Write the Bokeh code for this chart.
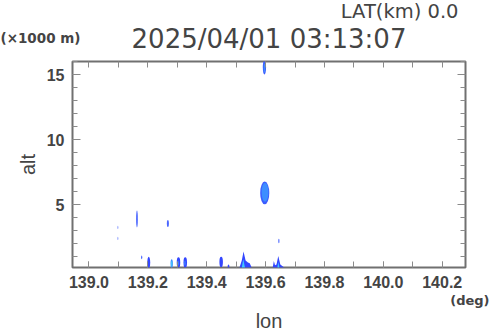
from bokeh.plotting import figure
from bokeh.models import LinearAxis, FixedTicker, Range1d, Title, PrintfTickFormatter
from bokeh.embed import file_html
from bokeh.resources import INLINE

# ---- data ----
title_text = "2025/04/01 03:13:07"
lat_text = "LAT(km) 0.0"
unit_y_text = "(\u00d71000 m)"
unit_x_text = "(deg)"
x_major = [139.0, 139.2, 139.4, 139.6, 139.8, 140.0, 140.2]
x_minor = [139.0, 139.1, 139.2, 139.3, 139.4, 139.5, 139.6, 139.7, 139.8, 139.9, 140.0, 140.1, 140.2]
y_major = [5, 10, 15]
y_minor = list(range(1, 17))
y_minor_only = [v for v in y_minor if v not in y_major]

# echo cells (ellipses): outer layer
blob_lon = [139.596, 139.597, 139.163, 139.268, 139.098, 139.098, 139.645, 139.179, 139.203, 139.281, 139.304, 139.327, 139.449, 139.474]
blob_alt = [15.55, 5.9, 3.9, 3.55, 3.25, 2.4, 2.2, 0.95, 0.55, 0.45, 0.55, 0.55, 0.6, 0.25]
blob_w = [0.011, 0.031, 0.006, 0.007, 0.004, 0.004, 0.004, 0.004, 0.010, 0.008, 0.012, 0.012, 0.012, 0.006]
blob_h = [1.1, 1.75, 1.3, 0.55, 0.25, 0.25, 0.35, 0.3, 0.9, 0.7, 0.8, 0.8, 0.8, 0.3]
blob_col = ["#3c5cff", "#3c5cff", "#4a66ff", "#4a66ff", "#9aaaff", "#9aaaff", "#4a66ff", "#4a66ff",
            "#3346ff", "#3c8cff", "#3346ff", "#3346ff", "#3346ff", "#3346ff"]

# inner layer (stronger echo)
core_lon = [139.596, 139.598, 139.281, 139.303, 139.326]
core_alt = [15.5, 5.95, 0.45, 0.5, 0.5]
core_w = [0.005, 0.023, 0.004, 0.005, 0.005]
core_h = [0.7, 1.45, 0.45, 0.4, 0.4]
core_col = ["#3f8cff", "#3d8eff", "#40d0ff", "#3f80ff", "#3f80ff"]

# low-level peaks (polygons, lon/alt)
peak_lon = [[139.511, 139.519, 139.525, 139.532, 139.540, 139.546, 139.553],
            [139.624, 139.628, 139.632, 139.637, 139.643, 139.650, 139.664]]
peak_alt = [[0.15, 0.7, 1.39, 0.7, 0.55, 0.5, 0.15],
            [0.15, 0.67, 0.35, 0.4, 1.05, 0.4, 0.15]]
peak_core_lon = [[139.519, 139.524, 139.530], [139.640, 139.643, 139.647]]
peak_core_alt = [[0.15, 0.8, 0.15], [0.15, 0.6, 0.15]]

TXT = "#444444"
FONT = "Liberation Sans"
TICK = "#8a8a8a"

p = figure(width=490, height=331, output_backend="svg", toolbar_location=None,
           x_range=Range1d(138.944, 140.279), y_range=Range1d(0.17, 16.0),
           min_border_left=72, min_border_right=25, min_border_top=61, min_border_bottom=63,
           x_axis_type=None, y_axis_type=None, title_location=None)
p.grid.visible = False
p.outline_line_color = "#707070"
p.outline_line_width = 2
p.background_fill_color = "white"
p.border_fill_color = "white"

def style_axis(ax):
    ax.axis_line_color = None
    ax.major_tick_out = 0
    ax.minor_tick_out = 0
    ax.major_tick_line_color = TICK
    ax.minor_tick_line_color = TICK
    ax.major_label_text_font = FONT
    ax.major_label_text_font_style = "bold"
    ax.major_label_text_color = TXT
    ax.major_label_text_font_size = "16px"
    ax.major_label_standoff = 8

def tick_only_axis(ticks, length):
    ax = LinearAxis(ticker=FixedTicker(ticks=[], minor_ticks=ticks))
    ax.axis_line_color = None
    ax.major_tick_out = 0
    ax.minor_tick_out = 0
    ax.minor_tick_in = length
    ax.minor_tick_line_color = TICK
    ax.major_label_standoff = 0
    return ax

# bottom axis with labels
bx = LinearAxis(ticker=FixedTicker(ticks=x_major, minor_ticks=x_minor),
                formatter=PrintfTickFormatter(format="%.1f"))
style_axis(bx); bx.major_tick_in = 6; bx.minor_tick_in = 6
p.add_layout(bx, "below")

# left axis with labels
ly = LinearAxis(ticker=FixedTicker(ticks=y_major, minor_ticks=y_minor), axis_label="alt")
style_axis(ly); ly.major_tick_in = 8; ly.minor_tick_in = 5
ly.axis_label_text_font = FONT
ly.axis_label_text_font_size = "20px"
ly.axis_label_text_font_style = "normal"
ly.axis_label_text_color = TXT
ly.axis_label_standoff = 5
p.add_layout(ly, "left")

# mirrored tick marks on top and right (no labels)
p.add_layout(tick_only_axis(x_minor, 6), "above")
p.add_layout(tick_only_axis(y_major, 8), "right")
p.add_layout(tick_only_axis(y_minor_only, 5), "right")

p.ellipse(x=blob_lon, y=blob_alt, width=blob_w, height=blob_h, fill_color=blob_col, line_color=None)
p.ellipse(x=core_lon, y=core_alt, width=core_w, height=core_h, fill_color=core_col, line_color=None)
p.patches(xs=peak_lon, ys=peak_alt, fill_color="#3346ff", line_color=None)
p.patches(xs=peak_core_lon, ys=peak_core_alt, fill_color="#40c8ff", line_color=None)

def ttl(text, size, side, font=FONT, align="center", style="normal", offset=0, standoff=0):
    t = Title(text=text, align=align, offset=offset, standoff=standoff,
              text_font=font, text_font_size=size, text_font_style=style, text_color=TXT)
    p.add_layout(t, side)

ttl(title_text, "26px", "above", font="DejaVu Sans", standoff=16)
ttl(lat_text, "19.5px", "above", font="DejaVu Sans", align="right", offset=7, standoff=-19)
ttl(unit_y_text, "13.5px", "above", font="DejaVu Sans", align="left", style="bold", offset=-72, standoff=-77)
ttl(unit_x_text, "13px", "below", font="DejaVu Sans", align="right", style="bold", offset=-24)
ttl("lon", "20px", "below")

open("out.html", "w").write(file_html(p, INLINE))
